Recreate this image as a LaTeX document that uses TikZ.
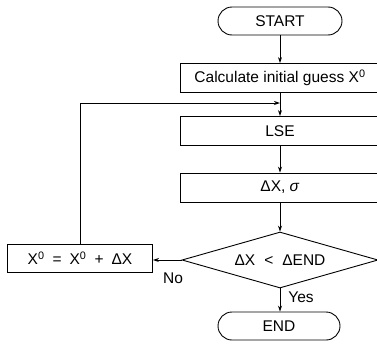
\documentclass[tikz,border=0pt]{standalone}
\usepackage{fontspec}
\setmainfont{Liberation Sans}
\usetikzlibrary{shapes.geometric,arrows.meta}

\begin{document}
\begin{tikzpicture}[x=1pt,y=-1pt,line width=0.9pt,
	every node/.style={font=\fontsize{15.5}{18}\selectfont},
	terminal/.style={draw,rounded corners=14pt,minimum width=124pt,minimum height=28pt,inner sep=0pt},
	process/.style={draw,minimum width=200pt,minimum height=29pt,inner sep=0pt},
	decision/.style={draw,diamond,aspect=3.5,minimum width=196pt,minimum height=56pt,inner sep=0pt},
	flow/.style={-{Stealth[length=6pt,width=4pt]}}]
	
	\useasboundingbox (0,0) rectangle (377,351);
	\clip (0,0) rectangle (377,351);
	
	\node[terminal] (start) at (280,21) {START};
	\node[process] (calc) at (280,78) {Calculate initial guess X\textsuperscript{0}};
	\node[process] (lse) at (280,131) {LSE};
	\node[process] (dx) at (280,187.5) {ΔX, \textit{σ}};
	\node[decision] (test) at (280,260) {ΔX\hspace{9pt}<\hspace{9pt}ΔEND};
	\node[draw,minimum width=145pt,minimum height=28pt,inner sep=0pt] (update) at (80,258)
		{X\textsuperscript{0}\hspace{8pt}=\hspace{8pt}X\textsuperscript{0}\hspace{8pt}+\hspace{8pt}ΔX};
	\node[terminal,minimum width=122pt] (end) at (279,326) {END};
	\coordinate (merge) at (280,103);
	
	\node (no) at (173,278) {No};
	\node (yes) at (301,297) {Yes};
	
	\draw[flow] (start) -- (calc);
	\draw[flow] (calc) -- (lse);
	\draw[flow] (lse) -- (dx);
	\draw[flow] (dx) -- (test);
	\draw[flow] (test.west) -- (update.east |- test.west);
	\draw[flow] (test.south) -- (end.north -| test.south);
	\draw[flow] (update.north) |- (merge);
\end{tikzpicture}
\end{document}
